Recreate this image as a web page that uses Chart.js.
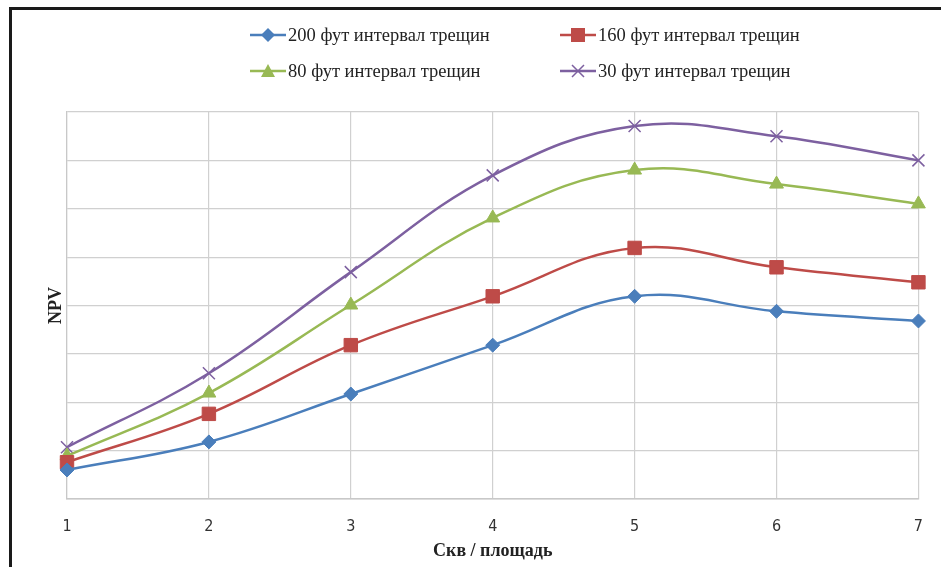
<!DOCTYPE html>
<html>
<head>
<meta charset="utf-8">
<script src="https://cdn.jsdelivr.net/npm/chart.js@4"></script>
<style>
  body { margin: 0; background: #fff; }
  #wrap { position: relative; width: 941px; height: 567px; overflow: hidden; }
  #frame { position: absolute; left: 9px; top: 7px; width: 1000px; height: 700px;
           border-top: 3px solid #1a1a1a; border-left: 3px solid #1a1a1a; }
  #legend { position: absolute; left: 0; top: 0; font-family: "Liberation Serif", serif; font-size: 18.5px; color: #222; }
  .item { position: absolute; white-space: nowrap; display: flex; align-items: center; height: 20px; }
  .item svg { margin-right: 2px; }
</style>
</head>
<body>
<div id="wrap">
  <canvas id="chart1" width="941" height="567"></canvas>
  <div id="frame"></div>
  <div id="legend"></div>
</div>
<script>
const xValues = [1, 2, 3, 4, 5, 6, 7];
const seriesNames = ["200 фут интервал трещин", "160 фут интервал трещин", "80 фут интервал трещин", "30 фут интервал трещин"];
const npv200 = [0.60, 1.18, 2.17, 3.18, 4.19, 3.88, 3.68];
const npv160 = [0.76, 1.76, 3.18, 4.19, 5.19, 4.79, 4.48];
const npv80 = [0.89, 2.19, 4.01, 5.81, 6.80, 6.51, 6.10];
const npv30 = [1.07, 2.60, 4.69, 6.69, 7.71, 7.50, 7.00];
const colors = ['#4a7ebb', '#be4b48', '#98b954', '#7d60a0'];
const markers = ['rectRot', 'rect', 'triangle', 'crossRot'];
const markerSizes = [7, 9.5, 8, 8.5];

const allValues = [npv200, npv160, npv80, npv30];

function toPoints(vals) {
    return vals.map((v, i) => ({ x: xValues[i], y: v }));
}

const datasets = allValues.map((vals, i) => ({
    label: seriesNames[i],
    data: toPoints(vals),
    borderColor: colors[i],
    backgroundColor: colors[i],
    borderWidth: 2.5,
    pointStyle: markers[i],
    pointRadius: markerSizes[i],
    pointBorderWidth: i == 3 ? 1.5 : 1,
    pointBorderColor: colors[i],
    tension: 0.4,
    clip: false,
    fill: false
}));

new Chart("chart1", {
    type: "line",
    data: { datasets: datasets },
    options: {
        responsive: false,
        animation: false,
        layout: { padding: { top: 112, left: 46, right: 22, bottom: 5 } },
        plugins: {
            legend: { display: false },
            tooltip: { enabled: false }
        },
        scales: {
            x: {
                type: 'linear',
                min: 1,
                max: 7,
                ticks: {
                    stepSize: 1,
                    padding: 18,
                    color: '#333',
                    font: { family: '"Liberation Sans Narrow", "DejaVu Sans Condensed", "Liberation Sans", sans-serif', size: 16 }
                },
                grid: { color: '#d0d0d0', drawTicks: false, lineWidth: 1.2 },
                border: { color: '#c8c8c8', width: 1.5 },
                title: {
                    display: true,
                    text: 'Скв / площадь',
                    color: '#222',
                    padding: { top: 4, bottom: 0 },
                    font: { family: 'Liberation Serif', size: 18, weight: 'bold' }
                },
                afterFit: function (scale) { scale.height = 63; }
            },
            y: {
                min: 0,
                max: 8,
                ticks: { display: false, stepSize: 1 },
                grid: { color: '#d0d0d0', drawTicks: false, lineWidth: 1.2 },
                border: { color: '#c8c8c8', width: 1.2 },
                title: {
                    display: true,
                    text: 'NPV',
                    color: '#222',
                    padding: { top: 0, bottom: 2 },
                    font: { family: 'Liberation Serif', size: 18, weight: 'bold' }
                },
                afterFit: function (scale) { scale.width = 21; }
            }
        }
    }
});

// HTML legend
const legendPos = [[250, 25], [560, 25], [250, 61], [560, 61]];
const legend = document.getElementById('legend');
seriesNames.forEach((name, i) => {
    const c = colors[i];
    let mark = '';
    if (i == 0) mark = `<polygon points="18,3 25,10 18,17 11,10" fill="${c}"/>`;
    if (i == 1) mark = `<rect x="11" y="3" width="14" height="14" fill="${c}"/>`;
    if (i == 2) mark = `<polygon points="18,3 25,16 11,16" fill="${c}"/>`;
    if (i == 3) mark = `<path d="M12,4 L24,16 M24,4 L12,16" stroke="${c}" stroke-width="1.5"/>`;
    const div = document.createElement('div');
    div.className = 'item';
    div.style.left = legendPos[i][0] + 'px';
    div.style.top = legendPos[i][1] + 'px';
    div.innerHTML = `<svg width="36" height="20"><line x1="0" y1="10" x2="36" y2="10" stroke="${c}" stroke-width="2.5"/>${mark}</svg><span>${name}</span>`;
    legend.appendChild(div);
});
</script>
</body>
</html>
